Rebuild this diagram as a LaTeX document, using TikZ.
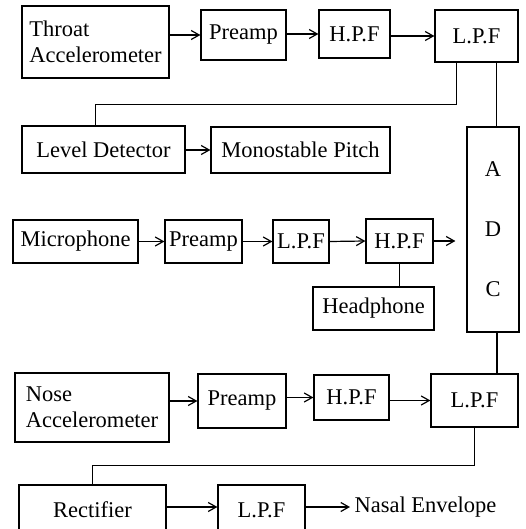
\documentclass[tikz,border=0pt]{standalone}
\usepackage{fontspec}
\setmainfont{Liberation Serif}
\usetikzlibrary{arrows.meta}

\begin{document}
\begin{tikzpicture}[>={Straight Barb[length=8pt,width=9pt]}, line width=1.2pt, blk/.style={draw, inner sep=0pt, align=center, font=\fontsize{22.5}{26}\selectfont}, txt/.style={inner sep=4pt, font=\fontsize{22.5}{26}\selectfont}]
  \clip (0pt, 0pt) rectangle (526pt, -529pt);
  % throat channel
  \draw (95.5pt, -42.0pt)node[blk, align=left, minimum width=147pt, minimum height=72pt](thr){Throat\\Accelerometer};
  \draw (243.5pt, -35.0pt)node[blk, minimum width=85pt, minimum height=50pt](pre1){Preamp};
  \draw (354.5pt, -34.0pt)node[blk, minimum width=71pt, minimum height=48pt](hpf1){H.P.F};
  \draw (476.5pt, -36.0pt)node[blk, minimum width=83pt, minimum height=52pt](lpf1){L.P.F};
  \draw (103.5pt, -149.5pt)node[blk, minimum width=163pt, minimum height=47pt](lev){Level Detector};
  \draw (300.5pt, -150.0pt)node[blk, minimum width=179pt, minimum height=46pt](mono){Monostable Pitch};
  \draw (493.0pt, -229.5pt)node[blk, minimum width=52pt, minimum height=205pt](adc){A\\[34pt]D\\[34pt]C};
  % microphone channel
  \draw (75.5pt, -241.5pt)node[blk, minimum width=125pt, minimum height=43pt](mic){Microphone};
  \draw (203.5pt, -241.5pt)node[blk, minimum width=77pt, minimum height=43pt](pre2){Preamp};
  \draw (301.0pt, -241.5pt)node[blk, minimum width=56pt, minimum height=43pt](lpf2){L.P.F};
  \draw (399.5pt, -241.0pt)node[blk, minimum width=67pt, minimum height=44pt](hpf2){H.P.F};
  \draw (373.5pt, -308.5pt)node[blk, minimum width=121pt, minimum height=43pt](head){Headphone};
  % nose channel
  \draw (92.0pt, -407.5pt)node[blk, align=left, minimum width=154pt, minimum height=69pt](nose){Nose\\Accelerometer};
  \draw (242.0pt, -401.0pt)node[blk, minimum width=88pt, minimum height=54pt](pre3){Preamp};
  \draw (351.5pt, -397.5pt)node[blk, minimum width=75pt, minimum height=45pt](hpf3){H.P.F};
  \draw (474.5pt, -400.5pt)node[blk, minimum width=87pt, minimum height=53pt](lpf3){L.P.F};
  \draw (92.5pt, -510.0pt)node[blk, minimum width=147pt, minimum height=50pt](rect){Rectifier};
  \draw (261.5pt, -510.0pt)node[blk, minimum width=87pt, minimum height=50pt](lpf4){L.P.F};
  \draw (350.0pt, -507.0pt)node[txt, anchor=west](nasal){Nasal Envelope};
  % connections
  \path[->] (thr.east |- pre1.west) edge (pre1.west);
  \path[->] (pre1.east |- hpf1.west) edge (hpf1.west);
  \path[->] (hpf1.east |- lpf1.west) edge (lpf1.west);
  \draw ([xshift=-20pt]lpf1.south) -- ++(0pt, -42pt) -| ([xshift=-8pt]lev.north);
  \draw ([xshift=20pt]lpf1.south) -- ([xshift=20pt]lpf1.south |- adc.north);
  \path[->] (lev.east |- mono.west) edge (mono.west);
  \path[->] (mic.east) edge (pre2.west);
  \path[->] (pre2.east) edge (lpf2.west);
  \path[->] (lpf2.east) edge (hpf2.west);
  \path[->, shorten >=11pt] (hpf2.east) edge (hpf2.east -| adc.west);
  \draw (hpf2.south) -- (hpf2.south |- head.north);
  \draw ([xshift=4pt]adc.south) -- ([xshift=4pt]adc.south |- lpf3.north);
  \path[->] (nose.east |- pre3.west) edge (pre3.west);
  \path[->] (pre3.east |- hpf3.west) edge (hpf3.west);
  \path[->] (hpf3.east |- lpf3.west) edge (lpf3.west);
  \draw (lpf3.south) -- ++(0pt, -38pt) -| (rect.north);
  \path[->] ([yshift=3pt]rect.east) edge ([yshift=3pt]lpf4.west);
  \path[->] ([yshift=3pt]lpf4.east) edge (nasal.west);
\end{tikzpicture}
\end{document}
